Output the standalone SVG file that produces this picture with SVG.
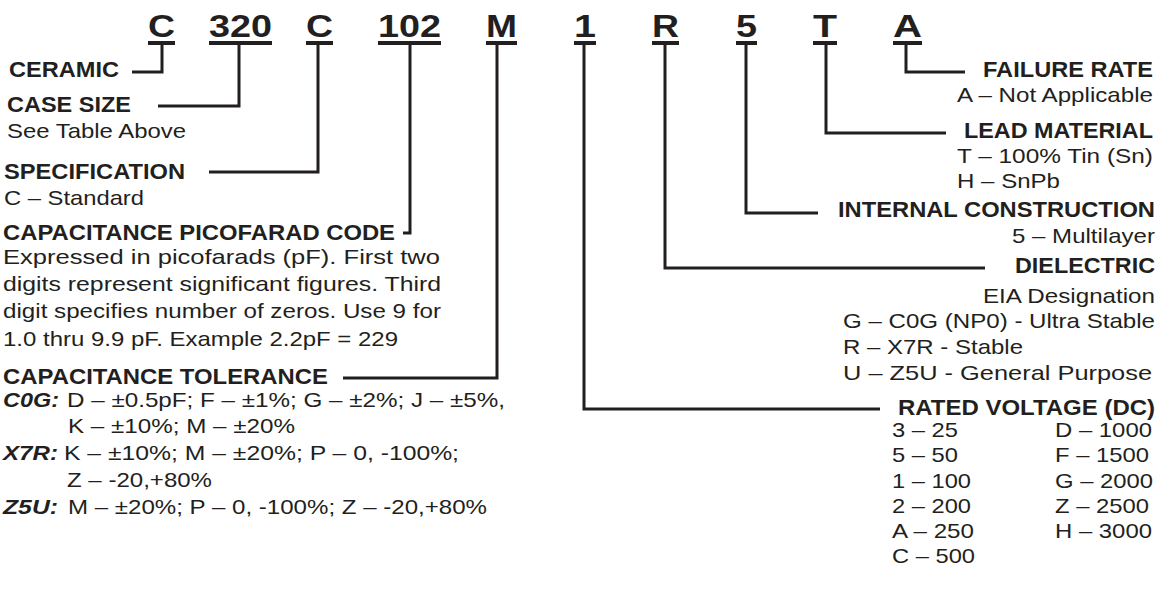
<svg xmlns="http://www.w3.org/2000/svg" width="1166" height="592" viewBox="0 0 1166 592">
<style>
text { font-family: "Liberation Sans", Arial, Helvetica, sans-serif; fill: #231f20; }
.b { font-weight: bold; font-size: 22px; }
.r { font-size: 21px; }
.bi { font-weight: bold; font-style: italic; font-size: 21px; }
.e { text-anchor: end; }
.code { font-weight: bold; font-size: 31px; text-anchor: middle; }
.ln { fill: none; stroke: #231f20; stroke-width: 3; }
.ul { fill: #231f20; }
</style>
<rect width="1166" height="592" fill="#ffffff"/>

<g id="code">
  <text class="code" x="161.5" y="37" textLength="27" lengthAdjust="spacingAndGlyphs">C</text>
  <rect class="ul" x="148" y="41" width="27" height="4"/>
  <text class="code" x="240.5" y="37" textLength="63" lengthAdjust="spacingAndGlyphs">320</text>
  <rect class="ul" x="209" y="41" width="63" height="4"/>
  <text class="code" x="319.5" y="37" textLength="27" lengthAdjust="spacingAndGlyphs">C</text>
  <rect class="ul" x="306" y="41" width="27" height="4"/>
  <text class="code" x="409.5" y="37" textLength="63" lengthAdjust="spacingAndGlyphs">102</text>
  <rect class="ul" x="378" y="41" width="63" height="4"/>
  <text class="code" x="501.5" y="37" textLength="31" lengthAdjust="spacingAndGlyphs">M</text>
  <rect class="ul" x="486" y="41" width="31" height="4"/>
  <text class="code" x="585" y="37" textLength="22" lengthAdjust="spacingAndGlyphs">1</text>
  <rect class="ul" x="574" y="41" width="22" height="4"/>
  <text class="code" x="665.5" y="37" textLength="27" lengthAdjust="spacingAndGlyphs">R</text>
  <rect class="ul" x="652" y="41" width="27" height="4"/>
  <text class="code" x="746.5" y="37" textLength="21" lengthAdjust="spacingAndGlyphs">5</text>
  <rect class="ul" x="736" y="41" width="21" height="4"/>
  <text class="code" x="825" y="37" textLength="24" lengthAdjust="spacingAndGlyphs">T</text>
  <rect class="ul" x="813" y="41" width="24" height="4"/>
  <text class="code" x="907.5" y="37" textLength="29" lengthAdjust="spacingAndGlyphs">A</text>
  <rect class="ul" x="893" y="41" width="29" height="4"/>
</g>

<g id="connectors">
  <path class="ln" d="M162,44 V72 H132"/>
  <path class="ln" d="M239,44 V106 H158"/>
  <path class="ln" d="M318,44 V172 H209"/>
  <path class="ln" d="M410,44 V233 H403"/>
  <path class="ln" d="M497,44 V378 H343"/>
  <path class="ln" d="M584,44 V409 H880"/>
  <path class="ln" d="M665,44 V268 H985"/>
  <path class="ln" d="M746,44 V213 H818"/>
  <path class="ln" d="M826,44 V133 H946"/>
  <path class="ln" d="M906,44 V72 H965"/>
</g>

<g id="ceramic">
  <text class="b" x="9" y="77" textLength="110" lengthAdjust="spacingAndGlyphs">CERAMIC</text>
</g>
<g id="case-size">
  <text class="b" x="7" y="112" textLength="124" lengthAdjust="spacingAndGlyphs">CASE SIZE</text>
  <text class="r" x="7" y="138" textLength="179" lengthAdjust="spacingAndGlyphs">See Table Above</text>
</g>
<g id="specification">
  <text class="b" x="4" y="179" textLength="181" lengthAdjust="spacingAndGlyphs">SPECIFICATION</text>
  <text class="r" x="4" y="205" textLength="140" lengthAdjust="spacingAndGlyphs">C – Standard</text>
</g>
<g id="capacitance-code">
  <text class="b" x="3" y="240" textLength="392" lengthAdjust="spacingAndGlyphs">CAPACITANCE PICOFARAD CODE</text>
  <text class="r" x="3" y="264" textLength="437" lengthAdjust="spacingAndGlyphs">Expressed in picofarads (pF). First two</text>
  <text class="r" x="3" y="291" textLength="438" lengthAdjust="spacingAndGlyphs">digits represent significant figures. Third</text>
  <text class="r" x="3" y="318" textLength="438" lengthAdjust="spacingAndGlyphs">digit specifies number of zeros. Use 9 for</text>
  <text class="r" x="3" y="346" textLength="395" lengthAdjust="spacingAndGlyphs">1.0 thru 9.9 pF. Example 2.2pF = 229</text>
</g>
<g id="capacitance-tolerance">
  <text class="b" x="3" y="384" textLength="325" lengthAdjust="spacingAndGlyphs">CAPACITANCE TOLERANCE</text>
  <text class="bi" x="3" y="407" textLength="56" lengthAdjust="spacingAndGlyphs">C0G:</text>
  <text class="r" x="67" y="407" textLength="438" lengthAdjust="spacingAndGlyphs">D – ±0.5pF; F – ±1%; G – ±2%; J – ±5%,</text>
  <text class="r" x="68" y="433" textLength="227" lengthAdjust="spacingAndGlyphs">K – ±10%; M – ±20%</text>
  <text class="bi" x="3" y="460" textLength="55" lengthAdjust="spacingAndGlyphs">X7R:</text>
  <text class="r" x="64" y="460" textLength="395" lengthAdjust="spacingAndGlyphs">K – ±10%; M – ±20%; P – 0, -100%;</text>
  <text class="r" x="67" y="487" textLength="145" lengthAdjust="spacingAndGlyphs">Z – -20,+80%</text>
  <text class="bi" x="3" y="514" textLength="55" lengthAdjust="spacingAndGlyphs">Z5U:</text>
  <text class="r" x="68" y="514" textLength="419" lengthAdjust="spacingAndGlyphs">M – ±20%; P – 0, -100%; Z – -20,+80%</text>
</g>

<g id="failure-rate">
  <text class="b e" x="1153" y="77" textLength="170" lengthAdjust="spacingAndGlyphs">FAILURE RATE</text>
  <text class="r e" x="1153" y="102" textLength="196" lengthAdjust="spacingAndGlyphs">A – Not Applicable</text>
</g>
<g id="lead-material">
  <text class="b e" x="1153" y="138" textLength="189" lengthAdjust="spacingAndGlyphs">LEAD MATERIAL</text>
  <text class="r" x="957" y="163" textLength="196" lengthAdjust="spacingAndGlyphs">T – 100% Tin (Sn)</text>
  <text class="r" x="957" y="188" textLength="103" lengthAdjust="spacingAndGlyphs">H – SnPb</text>
</g>
<g id="internal-construction">
  <text class="b e" x="1155" y="217" textLength="317" lengthAdjust="spacingAndGlyphs">INTERNAL CONSTRUCTION</text>
  <text class="r e" x="1155" y="243" textLength="143" lengthAdjust="spacingAndGlyphs">5 – Multilayer</text>
</g>
<g id="dielectric">
  <text class="b e" x="1155" y="273" textLength="140" lengthAdjust="spacingAndGlyphs">DIELECTRIC</text>
  <text class="r e" x="1155" y="303" textLength="172" lengthAdjust="spacingAndGlyphs">EIA Designation</text>
  <text class="r" x="843" y="328" textLength="312" lengthAdjust="spacingAndGlyphs">G – C0G (NP0) - Ultra Stable</text>
  <text class="r" x="843" y="354" textLength="180" lengthAdjust="spacingAndGlyphs">R – X7R - Stable</text>
  <text class="r" x="843" y="380" textLength="309" lengthAdjust="spacingAndGlyphs">U – Z5U - General Purpose</text>
</g>
<g id="rated-voltage">
  <text class="b e" x="1155" y="415" textLength="257" lengthAdjust="spacingAndGlyphs">RATED VOLTAGE (DC)</text>
  <text class="r" x="892" y="437" textLength="66" lengthAdjust="spacingAndGlyphs">3 – 25</text>
  <text class="r" x="892" y="462" textLength="66" lengthAdjust="spacingAndGlyphs">5 – 50</text>
  <text class="r" x="892" y="488" textLength="79" lengthAdjust="spacingAndGlyphs">1 – 100</text>
  <text class="r" x="892" y="513" textLength="79" lengthAdjust="spacingAndGlyphs">2 – 200</text>
  <text class="r" x="892" y="538" textLength="82" lengthAdjust="spacingAndGlyphs">A – 250</text>
  <text class="r" x="892" y="563" textLength="83" lengthAdjust="spacingAndGlyphs">C – 500</text>
  <text class="r" x="1055" y="437" textLength="97" lengthAdjust="spacingAndGlyphs">D – 1000</text>
  <text class="r" x="1055" y="462" textLength="94" lengthAdjust="spacingAndGlyphs">F – 1500</text>
  <text class="r" x="1055" y="488" textLength="98" lengthAdjust="spacingAndGlyphs">G – 2000</text>
  <text class="r" x="1055" y="513" textLength="94" lengthAdjust="spacingAndGlyphs">Z – 2500</text>
  <text class="r" x="1055" y="538" textLength="97" lengthAdjust="spacingAndGlyphs">H – 3000</text>
</g>
</svg>
